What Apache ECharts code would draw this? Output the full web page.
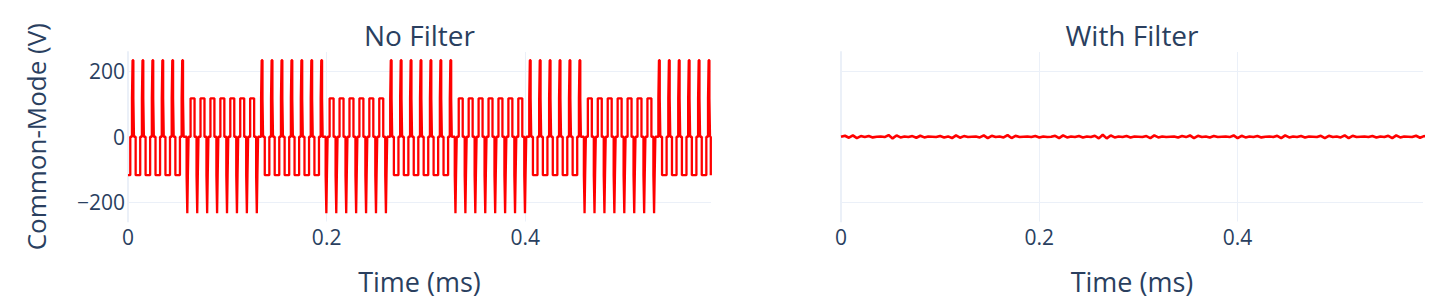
<!DOCTYPE html>
<html>
<head>
<meta charset="utf-8">
<script src="https://cdn.jsdelivr.net/npm/echarts@6/dist/echarts.min.js"></script>
<style>
html,body{margin:0;padding:0;background:#fff;}
#chart{width:1440px;height:304px;}
</style>
</head>
<body>
<div id="chart"></div>
<script>
// ---- Data (time in ms, voltage in V) ----
// Common-mode voltage without filter: [time at which the level changes, new level]
const sector1 = [[0,-117],
 [0.0023,0],[0.004,117],[0.0046,233],[0.0054,117],[0.006,0],[0.0077,-117],
 [0.0123,0],[0.014,117],[0.0146,233],[0.0154,117],[0.016,0],[0.0177,-117],
 [0.0223,0],[0.024,117],[0.0246,233],[0.0254,117],[0.026,0],[0.0277,-117],
 [0.0323,0],[0.034,117],[0.0346,233],[0.0354,117],[0.036,0],[0.0377,-117],
 [0.0423,0],[0.044,117],[0.0446,233],[0.0454,117],[0.046,0],[0.0477,-117],
 [0.0523,0],[0.054,117],[0.0546,233],[0.0554,117],[0.056,0]];
const sector2 = [
 [0.059,-117],[0.0597,-233],[0.0603,-117],[0.061,0],[0.063,117],
 [0.067,0],[0.069,-117],[0.0697,-233],[0.0703,-117],[0.071,0],[0.073,117],
 [0.077,0],[0.079,-117],[0.0797,-233],[0.0803,-117],[0.081,0],[0.083,117],
 [0.087,0],[0.089,-117],[0.0897,-233],[0.0903,-117],[0.091,0],[0.093,117],
 [0.097,0],[0.099,-117],[0.0997,-233],[0.1003,-117],[0.101,0],[0.103,117],
 [0.107,0],[0.109,-117],[0.1097,-233],[0.1103,-117],[0.111,0],[0.113,117],
 [0.117,0],[0.119,-117],[0.1197,-233],[0.1203,-117],[0.121,0],[0.123,117],
 [0.127,0],[0.129,-117],[0.1297,-233],[0.1303,-117],[0.131,0]];
const sector3 = [
 [0.134,117],[0.1346,233],[0.1354,117],[0.136,0],[0.1377,-117],
 [0.1423,0],[0.144,117],[0.1446,233],[0.1454,117],[0.146,0],[0.1477,-117],
 [0.1523,0],[0.154,117],[0.1546,233],[0.1554,117],[0.156,0],[0.1577,-117],
 [0.1623,0],[0.164,117],[0.1646,233],[0.1654,117],[0.166,0],[0.1677,-117],
 [0.1723,0],[0.174,117],[0.1746,233],[0.1754,117],[0.176,0],[0.1777,-117],
 [0.1823,0],[0.184,117],[0.1846,233],[0.1854,117],[0.186,0],[0.1877,-117],
 [0.1923,0],[0.194,117],[0.1946,233],[0.1954,117],[0.196,0]];
const sector4 = [
 [0.199,-117],[0.1997,-233],[0.2003,-117],[0.201,0],[0.203,117],
 [0.207,0],[0.209,-117],[0.2097,-233],[0.2103,-117],[0.211,0],[0.213,117],
 [0.217,0],[0.219,-117],[0.2197,-233],[0.2203,-117],[0.221,0],[0.223,117],
 [0.227,0],[0.229,-117],[0.2297,-233],[0.2303,-117],[0.231,0],[0.233,117],
 [0.237,0],[0.239,-117],[0.2397,-233],[0.2403,-117],[0.241,0],[0.243,117],
 [0.247,0],[0.249,-117],[0.2497,-233],[0.2503,-117],[0.251,0],[0.253,117],
 [0.257,0],[0.259,-117],[0.2597,-233],[0.2603,-117],[0.261,0]];
const sector5 = [
 [0.264,117],[0.2646,233],[0.2654,117],[0.266,0],[0.2677,-117],
 [0.2723,0],[0.274,117],[0.2746,233],[0.2754,117],[0.276,0],[0.2777,-117],
 [0.2823,0],[0.284,117],[0.2846,233],[0.2854,117],[0.286,0],[0.2877,-117],
 [0.2923,0],[0.294,117],[0.2946,233],[0.2954,117],[0.296,0],[0.2977,-117],
 [0.3023,0],[0.304,117],[0.3046,233],[0.3054,117],[0.306,0],[0.3077,-117],
 [0.3123,0],[0.314,117],[0.3146,233],[0.3154,117],[0.316,0],[0.3177,-117],
 [0.3223,0],[0.324,117],[0.3246,233],[0.3254,117],[0.326,0]];
const sector6 = [
 [0.329,-117],[0.3297,-233],[0.3303,-117],[0.331,0],[0.333,117],
 [0.337,0],[0.339,-117],[0.3397,-233],[0.3403,-117],[0.341,0],[0.343,117],
 [0.347,0],[0.349,-117],[0.3497,-233],[0.3503,-117],[0.351,0],[0.353,117],
 [0.357,0],[0.359,-117],[0.3597,-233],[0.3603,-117],[0.361,0],[0.363,117],
 [0.367,0],[0.369,-117],[0.3697,-233],[0.3703,-117],[0.371,0],[0.373,117],
 [0.377,0],[0.379,-117],[0.3797,-233],[0.3803,-117],[0.381,0],[0.383,117],
 [0.387,0],[0.389,-117],[0.3897,-233],[0.3903,-117],[0.391,0],[0.393,117],
 [0.397,0],[0.399,-117],[0.3997,-233],[0.4003,-117],[0.401,0]];
const sector7 = [
 [0.404,117],[0.4046,233],[0.4054,117],[0.406,0],[0.4077,-117],
 [0.4123,0],[0.414,117],[0.4146,233],[0.4154,117],[0.416,0],[0.4177,-117],
 [0.4223,0],[0.424,117],[0.4246,233],[0.4254,117],[0.426,0],[0.4277,-117],
 [0.4323,0],[0.434,117],[0.4346,233],[0.4354,117],[0.436,0],[0.4377,-117],
 [0.4423,0],[0.444,117],[0.4446,233],[0.4454,117],[0.446,0],[0.4477,-117],
 [0.4523,0],[0.454,117],[0.4546,233],[0.4554,117],[0.456,0]];
const sector8 = [
 [0.459,-117],[0.4597,-233],[0.4603,-117],[0.461,0],[0.463,117],
 [0.467,0],[0.469,-117],[0.4697,-233],[0.4703,-117],[0.471,0],[0.473,117],
 [0.477,0],[0.479,-117],[0.4797,-233],[0.4803,-117],[0.481,0],[0.483,117],
 [0.487,0],[0.489,-117],[0.4897,-233],[0.4903,-117],[0.491,0],[0.493,117],
 [0.497,0],[0.499,-117],[0.4997,-233],[0.5003,-117],[0.501,0],[0.503,117],
 [0.507,0],[0.509,-117],[0.5097,-233],[0.5103,-117],[0.511,0],[0.513,117],
 [0.517,0],[0.519,-117],[0.5197,-233],[0.5203,-117],[0.521,0],[0.523,117],
 [0.527,0],[0.529,-117],[0.5297,-233],[0.5303,-117],[0.531,0]];
const sector9 = [
 [0.534,117],[0.5346,233],[0.5354,117],[0.536,0],[0.5377,-117],
 [0.5423,0],[0.544,117],[0.5446,233],[0.5454,117],[0.546,0],[0.5477,-117],
 [0.5523,0],[0.554,117],[0.5546,233],[0.5554,117],[0.556,0],[0.5577,-117],
 [0.5623,0],[0.564,117],[0.5646,233],[0.5654,117],[0.566,0],[0.5677,-117],
 [0.5723,0],[0.574,117],[0.5746,233],[0.5754,117],[0.576,0],[0.5777,-117],
 [0.5823,0],[0.584,117],[0.5846,233],[0.5854,117],[0.586,0],[0.5868,-117],[0.587,-117]];

// Common-mode voltage with filter: sample spacing (ms) and sampled values (V)
const filteredStep = 0.004;
const filteredValues = [0,3,-3,4,-4,2,-1,2,-2,0,1,-1,5,-5,4,-2,1,-1,2,-3,3,-2,1,0,-1,2,-2,1,-4,4,
 -3,2,-1,0,1,-2,4,-4,3,-1,1,-2,5,-4,3,-1,0,1,-1,2,-2,1,-1,0,3,-4,4,-2,1,-1,
 2,-2,1,-1,3,-5,6,-5,4,-2,1,-1,2,-2,1,0,-1,2,-4,4,-2,1,-1,0,1,-2,2,-1,4,-4,
 3,-1,1,-2,2,-1,0,1,-1,4,-4,3,-2,1,-1,2,-2,0,1,-1,3,-4,4,-2,1,-1,2,-2,1,0,
 -1,3,-4,3,-1,1,-2,4,-4,3,-1,0,1,-1,2,-2,1,-1,3,-4,4,-2,1,0,-1,3,-3,2,0];

const panelTitles = ['No Filter', 'With Filter'];
const xTitle = 'Time (ms)';
const yTitle = 'Common-Mode (V)';
const timeMax = 0.587;
const voltRange = [-258, 258];

// ---- Chart ----
const noFilter = [].concat(sector1, sector2, sector3, sector4, sector5, sector6, sector7, sector8, sector9);
const withFilter = filteredValues.map((v, i) => [i * filteredStep, v]);

const FONT = '"Open Sans", sans-serif';
const TXT = '#2a3f5f';
const GRID = '#EBF0F8';
const grids = [
  {left: 128, top: 52, width: 583, height: 169.5},
  {left: 841, top: 52, width: 582, height: 169.5}
];

function xAxisFor(i) {
  return {
    type: 'value', gridIndex: i, min: 0, max: timeMax, interval: 0.2,
    name: xTitle, nameLocation: 'middle', nameGap: 46,
    nameTextStyle: {fontFamily: FONT, fontSize: 27, color: TXT},
    axisLine: {show: false}, axisTick: {show: false},
    axisLabel: {fontFamily: FONT, fontSize: 21, color: TXT, margin: 5, showMaxLabel: false},
    splitLine: {show: true, lineStyle: {color: GRID, width: 1}, showMaxLine: false}
  };
}
function yAxisFor(i) {
  return {
    type: 'value', gridIndex: i, min: voltRange[0], max: voltRange[1], splitNumber: 3,
    name: i === 0 ? yTitle : '', nameLocation: 'middle', nameGap: 79, nameRotate: 90,
    nameTextStyle: {fontFamily: FONT, fontSize: 26, color: TXT},
    axisLine: {show: true, onZero: false, lineStyle: {color: GRID, width: 2}},
    axisTick: {show: false},
    axisLabel: {show: i === 0, fontFamily: FONT, fontSize: 21, color: TXT, margin: 3,
      showMinLabel: false, showMaxLabel: false,
      formatter: v => (v < 0 ? '\u2212' + Math.abs(v) : String(v))},
    splitLine: {show: true, lineStyle: {color: GRID, width: 1}, showMinLine: false, showMaxLine: false}
  };
}

const chart = echarts.init(document.getElementById('chart'), null, {renderer: 'svg'});
chart.setOption({
  animation: false,
  backgroundColor: '#ffffff',
  grid: grids,
  xAxis: [xAxisFor(0), xAxisFor(1)],
  yAxis: [yAxisFor(0), yAxisFor(1)],
  graphic: [
    {type: 'text', x: 419.5, y: 35, style: {text: panelTitles[0], fill: TXT, font: '28px ' + FONT, textAlign: 'center', textVerticalAlign: 'middle'}},
    {type: 'text', x: 1132, y: 35, style: {text: panelTitles[1], fill: TXT, font: '28px ' + FONT, textAlign: 'center', textVerticalAlign: 'middle'}}
  ],
  series: [
    {type: 'line', xAxisIndex: 0, yAxisIndex: 0, data: noFilter, step: 'end', showSymbol: false,
     lineStyle: {color: '#ff0000', width: 2.3}, silent: true},
    {type: 'line', xAxisIndex: 1, yAxisIndex: 1, data: withFilter, showSymbol: false,
     lineStyle: {color: '#ff0000', width: 2.6}, silent: true}
  ]
});
</script>
</body>
</html>
